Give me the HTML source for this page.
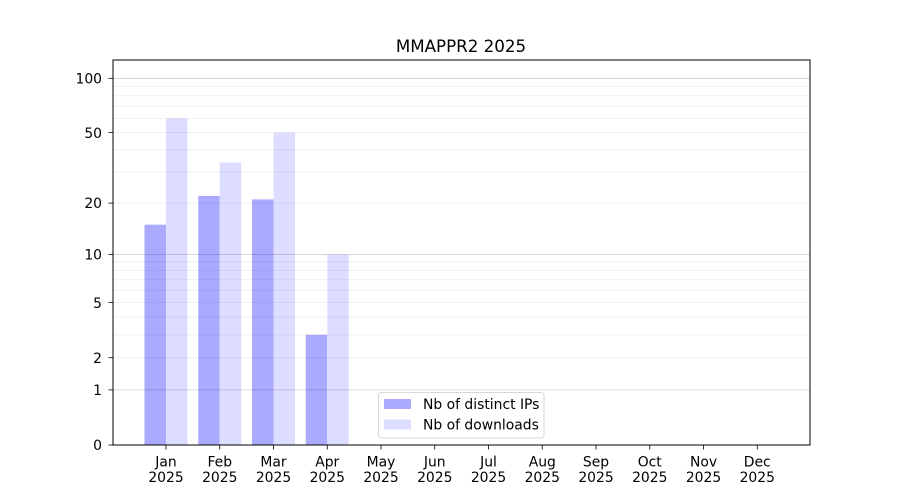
<!DOCTYPE html>
<html><head><meta charset="utf-8"><style>
html,body{margin:0;padding:0;background:#fff;}
svg{display:block;font-family:"DejaVu Sans","Liberation Sans",sans-serif;}
</style></head><body>
<svg width="900" height="500" viewBox="0 0 900 500" xmlns="http://www.w3.org/2000/svg">
<rect width="900" height="500" fill="#fff"/>
<text x="461" y="52" font-size="16.7" text-anchor="middle" fill="#000">MMAPPR2 2025</text>
<!-- bars -->
<g>
<rect x="144.5" y="224.7" width="21.5" height="220.3" fill="#aaaaff"/>
<rect x="166" y="118.4" width="21.5" height="326.6" fill="#ddddff"/>
<rect x="198.25" y="195.9" width="21.5" height="249.1" fill="#aaaaff"/>
<rect x="219.75" y="162.5" width="21.5" height="282.5" fill="#ddddff"/>
<rect x="252" y="199.4" width="21.5" height="245.6" fill="#aaaaff"/>
<rect x="273.5" y="132.6" width="21.5" height="312.4" fill="#ddddff"/>
<rect x="305.75" y="334.8" width="21.5" height="110.2" fill="#aaaaff"/>
<rect x="327.25" y="254.5" width="21.5" height="190.5" fill="#ddddff"/>
</g>
<!-- grid -->
<g stroke="#000" stroke-opacity="0.07" stroke-width="0.8">
<line x1="113" x2="810" y1="357.7" y2="357.7"/>
<line x1="113" x2="810" y1="334.8" y2="334.8"/>
<line x1="113" x2="810" y1="317.1" y2="317.1"/>
<line x1="113" x2="810" y1="302.6" y2="302.6"/>
<line x1="113" x2="810" y1="290.4" y2="290.4"/>
<line x1="113" x2="810" y1="279.8" y2="279.8"/>
<line x1="113" x2="810" y1="270.4" y2="270.4"/>
<line x1="113" x2="810" y1="262.05" y2="262.05"/>
<line x1="113" x2="810" y1="203.1" y2="203.1"/>
<line x1="113" x2="810" y1="172.1" y2="172.1"/>
<line x1="113" x2="810" y1="149.9" y2="149.9"/>
<line x1="113" x2="810" y1="132.6" y2="132.6"/>
<line x1="113" x2="810" y1="118.4" y2="118.4"/>
<line x1="113" x2="810" y1="106.3" y2="106.3"/>
<line x1="113" x2="810" y1="95.8" y2="95.8"/>
<line x1="113" x2="810" y1="86.6" y2="86.6"/>
</g>
<g stroke="#000" stroke-opacity="0.2" stroke-width="0.8">
<line x1="113" x2="810" y1="389.9" y2="389.9"/>
<line x1="113" x2="810" y1="254.5" y2="254.5"/>
<line x1="113" x2="810" y1="78.3" y2="78.3"/>
</g>
<!-- axes frame -->
<rect x="113" y="60" width="697" height="385" fill="none" stroke="#000" stroke-width="1"/>
<!-- y ticks -->
<g stroke="#000" stroke-width="0.8">
<line x1="108.5" x2="113" y1="445" y2="445"/>
<line x1="108.5" x2="113" y1="389.9" y2="389.9"/>
<line x1="108.5" x2="113" y1="357.7" y2="357.7"/>
<line x1="108.5" x2="113" y1="302.6" y2="302.6"/>
<line x1="108.5" x2="113" y1="254.5" y2="254.5"/>
<line x1="108.5" x2="113" y1="203.1" y2="203.1"/>
<line x1="108.5" x2="113" y1="132.6" y2="132.6"/>
<line x1="108.5" x2="113" y1="78.3" y2="78.3"/>
</g>
<g font-size="13.9" text-anchor="end" fill="#000">
<text x="102" y="450">0</text>
<text x="102" y="395">1</text>
<text x="102" y="363">2</text>
<text x="102" y="308">5</text>
<text x="102" y="259.5">10</text>
<text x="102" y="208">20</text>
<text x="102" y="138">50</text>
<text x="102" y="83.5">100</text>
</g>
<!-- x ticks -->
<g stroke="#000" stroke-width="0.8">
<line x1="166" x2="166" y1="445" y2="449.5"/>
<line x1="219.75" x2="219.75" y1="445" y2="449.5"/>
<line x1="273.5" x2="273.5" y1="445" y2="449.5"/>
<line x1="327.25" x2="327.25" y1="445" y2="449.5"/>
<line x1="381" x2="381" y1="445" y2="449.5"/>
<line x1="434.75" x2="434.75" y1="445" y2="449.5"/>
<line x1="488.5" x2="488.5" y1="445" y2="449.5"/>
<line x1="542.25" x2="542.25" y1="445" y2="449.5"/>
<line x1="596" x2="596" y1="445" y2="449.5"/>
<line x1="649.75" x2="649.75" y1="445" y2="449.5"/>
<line x1="703.5" x2="703.5" y1="445" y2="449.5"/>
<line x1="757.25" x2="757.25" y1="445" y2="449.5"/>
</g>
<g font-size="13.9" text-anchor="middle" fill="#000">
<text x="166" y="466.7">Jan</text><text x="166" y="482">2025</text>
<text x="219.75" y="466.7">Feb</text><text x="219.75" y="482">2025</text>
<text x="273.5" y="466.7">Mar</text><text x="273.5" y="482">2025</text>
<text x="327.25" y="466.7">Apr</text><text x="327.25" y="482">2025</text>
<text x="381" y="466.7">May</text><text x="381" y="482">2025</text>
<text x="434.75" y="466.7">Jun</text><text x="434.75" y="482">2025</text>
<text x="488.5" y="466.7">Jul</text><text x="488.5" y="482">2025</text>
<text x="542.25" y="466.7">Aug</text><text x="542.25" y="482">2025</text>
<text x="596" y="466.7">Sep</text><text x="596" y="482">2025</text>
<text x="649.75" y="466.7">Oct</text><text x="649.75" y="482">2025</text>
<text x="703.5" y="466.7">Nov</text><text x="703.5" y="482">2025</text>
<text x="757.25" y="466.7">Dec</text><text x="757.25" y="482">2025</text>
</g>
<!-- legend -->
<rect x="378.5" y="392.5" width="165.5" height="45.5" rx="2.5" ry="2.5" fill="#fff" fill-opacity="0.8" stroke="#ccc" stroke-width="0.8"/>
<rect x="384" y="399" width="27" height="10" fill="#aaaaff"/>
<rect x="384" y="419.5" width="27" height="10" fill="#ddddff"/>
<g font-size="13.9" fill="#000">
<text x="423" y="409">Nb of distinct IPs</text>
<text x="423" y="429.5">Nb of downloads</text>
</g>
</svg>
</body></html>
